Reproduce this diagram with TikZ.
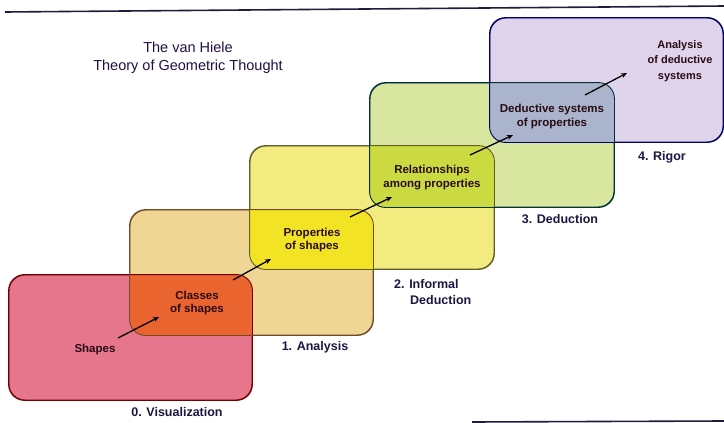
\documentclass[tikz,border=0pt]{standalone}
\usepackage{fontspec}
\setmainfont{Liberation Sans}
\usetikzlibrary{arrows.meta}
\definecolor{pinkbox}{RGB}{230,118,140}
\definecolor{tanbox}{RGB}{240,214,148}
\definecolor{yelbox}{RGB}{242,236,128}
\definecolor{grnbox}{RGB}{216,230,160}
\definecolor{lavbox}{RGB}{224,212,236}
\definecolor{ov01}{RGB}{234,100,48}
\definecolor{ov12}{RGB}{242,228,36}
\definecolor{ov23}{RGB}{204,218,66}
\definecolor{ov34}{RGB}{170,180,204}
\definecolor{boxtext}{RGB}{40,12,20}
\definecolor{leveltext}{RGB}{26,24,66}
\definecolor{titletext}{RGB}{34,14,70}
\definecolor{rulecol}{RGB}{30,30,60}
\tikzset{
  x=1pt, y=-1pt,
  stagebox/.style={draw=#1, line width=0.9pt, rounded corners=16pt, inner sep=0pt},
  boxlabel/.style={font=\bfseries\fontsize{11.5}{13.5}\selectfont, text=boxtext, align=center, inner sep=0pt},
  levellabel/.style={font=\bfseries\fontsize{12.5}{16}\selectfont, text=leveltext, align=left, inner sep=0pt},
  steparrow/.style={-{Stealth[length=6pt,width=5pt]}, line width=1.3pt, black}
}
\begin{document}
\begin{tikzpicture}
\useasboundingbox (0,0) rectangle (724,423);
\fill[white] (0,0) rectangle (724,423);
% rules
\coordinate (r1a) at (5,12);
\coordinate (r1b) at (724,6);
\coordinate (r2a) at (472,422);
\coordinate (r2b) at (724,421);
\draw[rulecol, line width=1.6pt] (r1a) -- (r1b);
\draw[rulecol, line width=1.6pt] (r2a) -- (r2b);
% boxes
\node[stagebox=red!45!black, fill=pinkbox, minimum width=243pt, minimum height=125pt] (box0) at (130.5,337.5) {};
\node[stagebox=brown!60!black, fill=tanbox, minimum width=243pt, minimum height=125pt] (box1) at (251.5,272.5) {};
\node[stagebox=olive!60!black, fill=yelbox, minimum width=244pt, minimum height=123pt] (box2) at (372,207.5) {};
\node[stagebox=teal!40!black, fill=grnbox, minimum width=244pt, minimum height=124pt] (box3) at (492,145) {};
\node[stagebox=blue!40!black, fill=lavbox, minimum width=233pt, minimum height=124pt] (box4) at (606.5,80) {};
% overlaps
\begin{scope}
  \clip[rounded corners=16pt] (box0.south west) rectangle (box0.north east);
  \fill[ov01, rounded corners=16pt] (box1.south west) rectangle (box1.north east);
\end{scope}
\begin{scope}
  \clip[rounded corners=16pt] (box1.south west) rectangle (box1.north east);
  \fill[ov12, rounded corners=16pt] (box2.south west) rectangle (box2.north east);
\end{scope}
\begin{scope}
  \clip[rounded corners=16pt] (box2.south west) rectangle (box2.north east);
  \fill[ov23, rounded corners=16pt] (box3.south west) rectangle (box3.north east);
\end{scope}
\begin{scope}
  \clip[rounded corners=16pt] (box3.south west) rectangle (box3.north east);
  \fill[ov34, rounded corners=16pt] (box4.south west) rectangle (box4.north east);
\end{scope}
% borders on top
\draw[red!45!black, line width=0.9pt, rounded corners=16pt] (box0.south west) rectangle (box0.north east);
\draw[brown!60!black, line width=0.9pt, rounded corners=16pt] (box1.south west) rectangle (box1.north east);
\draw[olive!60!black, line width=0.9pt, rounded corners=16pt] (box2.south west) rectangle (box2.north east);
\draw[teal!40!black, line width=0.9pt, rounded corners=16pt] (box3.south west) rectangle (box3.north east);
\draw[blue!40!black, line width=0.9pt, rounded corners=16pt] (box4.south west) rectangle (box4.north east);
% title
\node[font=\fontsize{14.5}{18}\selectfont, text=titletext, align=center, inner sep=0pt] (title) at (188,58) {The van Hiele\\Theory of Geometric Thought};
% box labels
\node[boxlabel] (shapes) at (95,350) {Shapes};
\node[boxlabel] (classes) at (197,303) {Classes\\of shapes};
\node[boxlabel] (props) at (312,240) {Properties\\of shapes};
\node[boxlabel] (relat) at (432,177.5) {Relationships\\among properties};
\node[boxlabel] (dedsys) at (552,116.5) {Deductive systems\\of properties};
\node[boxlabel, font=\bfseries\fontsize{11}{15.5}\selectfont] (analysis) at (680,61) {Analysis\\of deductive\\systems};
% level labels
\node[levellabel, anchor=center] (lv0) at (177,412) {0. Visualization};
\node[levellabel, anchor=center] (lv1) at (315,347) {1. Analysis};
\node[levellabel, anchor=west] (lv2) at (394,292) {2. Informal\\\hspace*{16pt}Deduction};
\node[levellabel, anchor=center] (lv3) at (560,219) {3. Deduction};
\node[levellabel, anchor=center] (lv4) at (662,157) {4. Rigor};
% arrow ends
\coordinate (a0s) at (118,338); \coordinate (a0e) at (159,317);
\coordinate (a1s) at (233,280); \coordinate (a1e) at (271,259);
\coordinate (a2s) at (350,217); \coordinate (a2e) at (392,197);
\coordinate (a3s) at (470,155); \coordinate (a3e) at (513,135);
\coordinate (a4s) at (585,95);  \coordinate (a4e) at (627,73);
\draw[steparrow] (a0s) -- (a0e);
\draw[steparrow] (a1s) -- (a1e);
\draw[steparrow] (a2s) -- (a2e);
\draw[steparrow] (a3s) -- (a3e);
\draw[steparrow] (a4s) -- (a4e);
\end{tikzpicture}
\end{document}
